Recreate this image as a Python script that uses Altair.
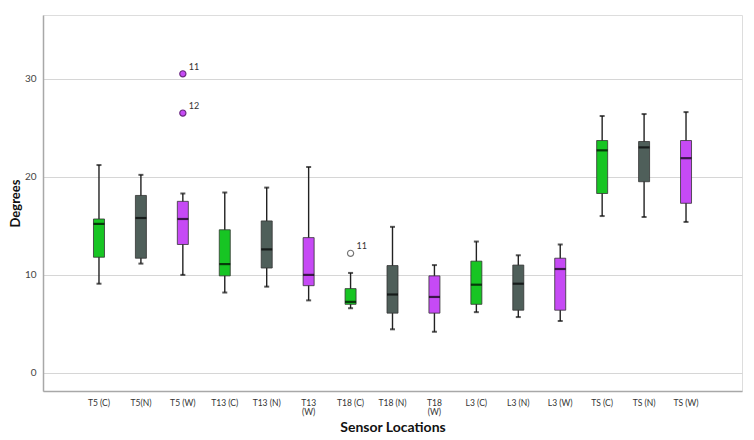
import altair as alt
import pandas as pd

categories = ["T5 (C)", "T5(N)", "T5 (W)", "T13 (C)", "T13 (N)", "T13 (W)",
              "T18 (C)", "T18 (N)", "T18 (W)", "L3 (C)", "L3 (N)", "L3 (W)",
              "TS (C)", "TS (N)", "TS (W)"]
groups = ["C", "N", "W"] * 5
whisk_lo = [9.1, 11.15, 10.0, 8.2, 8.8, 7.4, 6.6, 4.45, 4.2, 6.2, 5.7, 5.3, 16.0, 15.9, 15.4]
q1 = [11.8, 11.7, 13.1, 9.9, 10.7, 8.9, 7.0, 6.1, 6.1, 7.0, 6.4, 6.4, 18.3, 19.5, 17.3]
median = [15.2, 15.8, 15.7, 11.1, 12.6, 10.0, 7.25, 8.0, 7.75, 9.0, 9.1, 10.6, 22.7, 23.0, 21.9]
q3 = [15.7, 18.1, 17.5, 14.6, 15.5, 13.8, 8.6, 10.95, 9.9, 11.4, 11.0, 11.7, 23.7, 23.6, 23.7]
whisk_hi = [21.2, 20.2, 18.3, 18.4, 18.9, 21.0, 10.2, 14.9, 11.0, 13.4, 12.0, 13.1, 26.2, 26.4, 26.6]

out_cat = ["T5 (W)", "T5 (W)", "T18 (C)"]
out_val = [30.5, 26.5, 12.2]
out_label = ["11", "12", "11"]
out_fill = ["#c64af5", "#c64af5", "#ffffff"]
out_stroke = ["#6a2a80", "#6a2a80", "#777777"]

group_domain = ["C", "N", "W"]
group_colors = ["#17c523", "#4f5f5a", "#c64af5"]

df = pd.DataFrame({"cat": categories, "grp": groups, "lo": whisk_lo, "q1": q1,
                   "med": median, "q3": q3, "hi": whisk_hi})
odf = pd.DataFrame({"cat": out_cat, "val": out_val, "lab": out_label,
                    "fill": out_fill, "stroke": out_stroke})

FONT = "Lato"

xenc = alt.X("cat:N", sort=categories, title="Sensor Locations",
             scale=alt.Scale(paddingInner=0, paddingOuter=0.835),
             axis=alt.Axis(labelAngle=0, ticks=False, grid=False, labelPadding=7,
                           labelFontSize=8.5, labelColor="#333333", labelFont=FONT,
                           labelLineHeight=9,
                           labelExpr="indexof(['T13 (W)','T18 (W)'], datum.value) >= 0 ? split(datum.value, ' ') : datum.value",
                           domainColor="#a8a8a8", domainWidth=1.5,
                           titleFont=FONT, titleFontSize=14, titleFontWeight="bold",
                           titleColor="#111111", titlePadding=5))
yscale = alt.Scale(domain=[-1.84, 36.5], nice=False, zero=False)
yaxis = alt.Axis(values=[0, 10, 20, 30], ticks=False, grid=True, gridColor="#d6d6d6",
                 gridWidth=1.2, domainColor="#a8a8a8", domainWidth=1.5,
                 labelFontSize=10, labelColor="#444444", labelFont=FONT, labelPadding=7,
                 titleFont=FONT, titleFontSize=13, titleFontWeight="bold",
                 titleColor="#111111", titlePadding=2)

base = alt.Chart(df)

whisk = base.mark_rule(color="#222222", strokeWidth=1.4).encode(
    x=xenc, y=alt.Y("lo:Q", scale=yscale, axis=yaxis, title="Degrees"), y2="hi:Q")

box = base.mark_bar(size=11, stroke="#333333", strokeWidth=0.8).encode(
    x=alt.X("cat:N", sort=categories), y="q1:Q", y2="q3:Q",
    color=alt.Color("grp:N", scale=alt.Scale(domain=group_domain, range=group_colors), legend=None))

med = base.mark_tick(color="#000000", size=11, thickness=2.2).encode(
    x=alt.X("cat:N", sort=categories), y="med:Q")

cap_lo = base.mark_tick(color="#111111", size=5, thickness=2).encode(
    x=alt.X("cat:N", sort=categories), y="lo:Q")
cap_hi = base.mark_tick(color="#111111", size=5, thickness=2).encode(
    x=alt.X("cat:N", sort=categories), y="hi:Q")

ochart = alt.Chart(odf)
pts = ochart.mark_point(filled=True, size=38, strokeWidth=1.2, opacity=1).encode(
    x=alt.X("cat:N", sort=categories), y="val:Q",
    fill=alt.Fill("fill:N", scale=None), stroke=alt.Stroke("stroke:N", scale=None))
labs = ochart.mark_text(dx=6, dy=-7, align="left", fontSize=9, font=FONT, color="#333333").encode(
    x=alt.X("cat:N", sort=categories), y="val:Q", text="lab:N")

chart = alt.layer(whisk, box, med, cap_lo, cap_hi, pts, labs).properties(
    width=699, height=376,
    autosize=alt.AutoSizeParams(type="none"),
    padding={"left": 35, "top": 7, "right": 4, "bottom": 46},
).configure_view(stroke=None).configure(background="white")

chart.save("out.html", embed_options={"renderer": "svg", "actions": False})
